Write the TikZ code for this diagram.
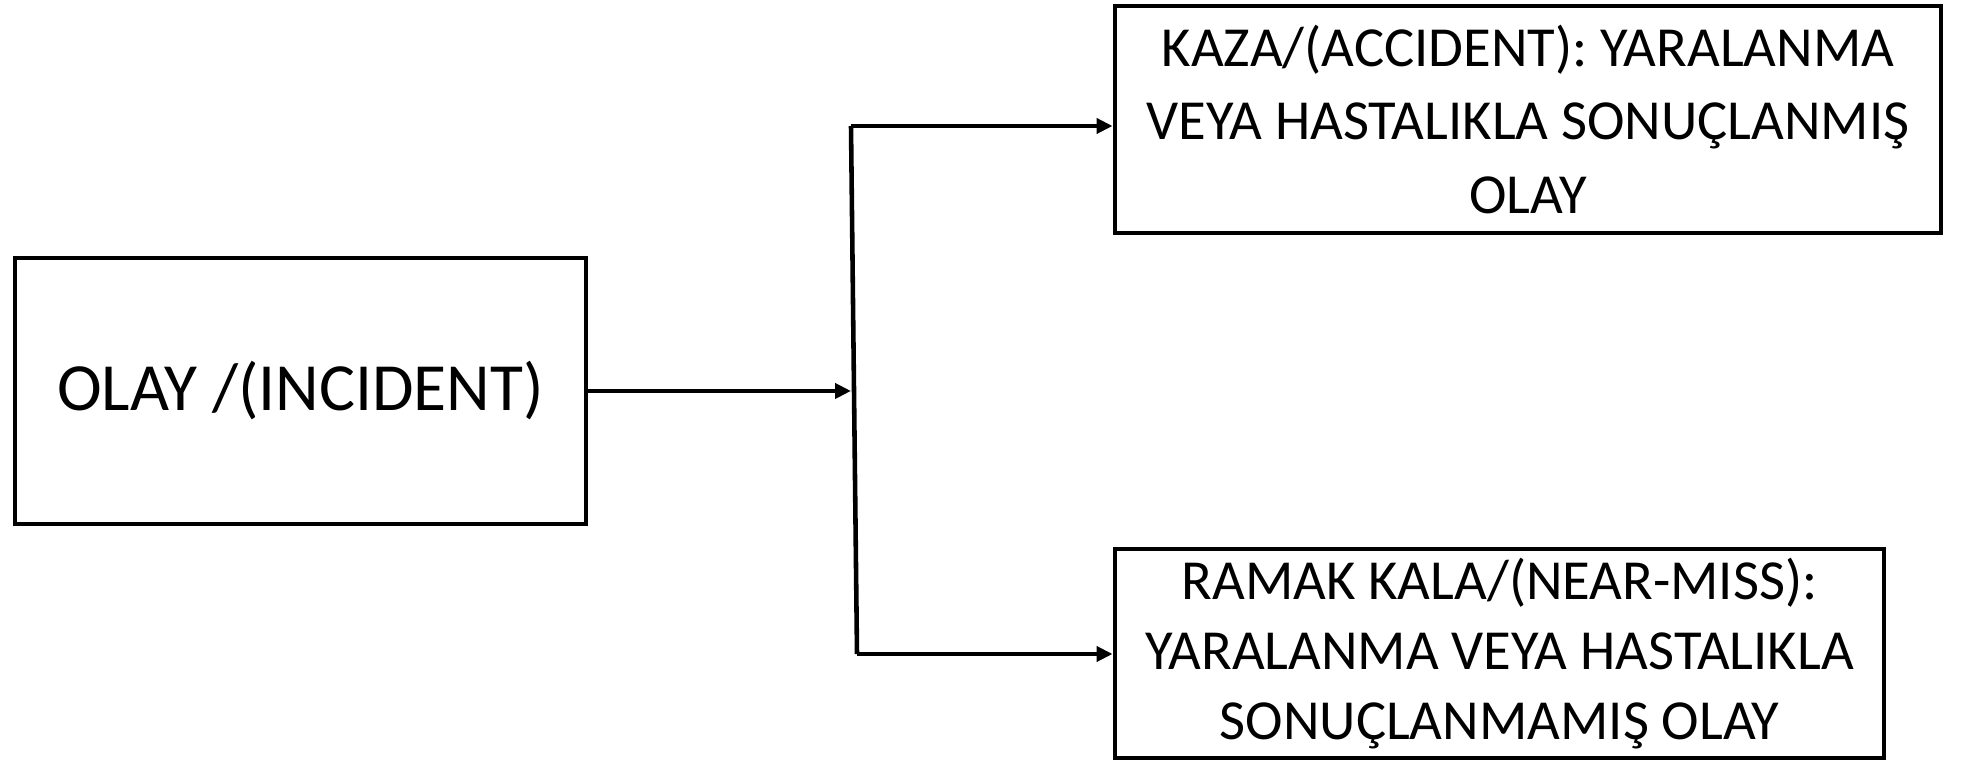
\documentclass[tikz,border=0pt]{standalone}
\usepackage{fontspec}
\setmainfont{Carlito}
\usetikzlibrary{arrows.meta}
\tikzset{
  kutu/.style={draw,line width=1.4pt,inner sep=0pt,align=center},
  ok/.style={line width=1.3pt,-{Triangle[length=0.16cm,width=0.15cm]}}
}
\begin{document}
\begin{tikzpicture}
      \useasboundingbox(0,0)rectangle(19.62,7.62);
      \node[kutu,minimum width=5.71cm,minimum height=2.66cm,font=\fontsize{19.2}{23}\selectfont](olay)at(3.005,3.71){OLAY /(INCIDENT)};
      \node[kutu,minimum width=8.26cm,minimum height=2.27cm,font=\fontsize{16.1}{21}\selectfont](kaza)at(15.28,6.425){KAZA/(ACCIDENT): YARALANMA\\VEYA HASTALIKLA SONUÇLANMIŞ\\OLAY};
      \node[kutu,minimum width=7.69cm,minimum height=2.09cm,font=\fontsize{16.1}{20}\selectfont](ramak)at(14.995,1.085){RAMAK KALA/(NEAR-MISS):\\YARALANMA VEYA HASTALIKLA\\SONUÇLANMAMIŞ OLAY};
      \coordinate(ust)at(8.51,6.36);
      \coordinate(alt)at(8.57,1.08);
      \draw[line width=1.3pt](ust)--(alt);
      \draw[ok](olay.east)--(olay.east-|ust);
      \draw[ok](ust)--(ust-|kaza.west);
      \draw[ok](alt)--(alt-|ramak.west);
    \end{tikzpicture}
\end{document}
